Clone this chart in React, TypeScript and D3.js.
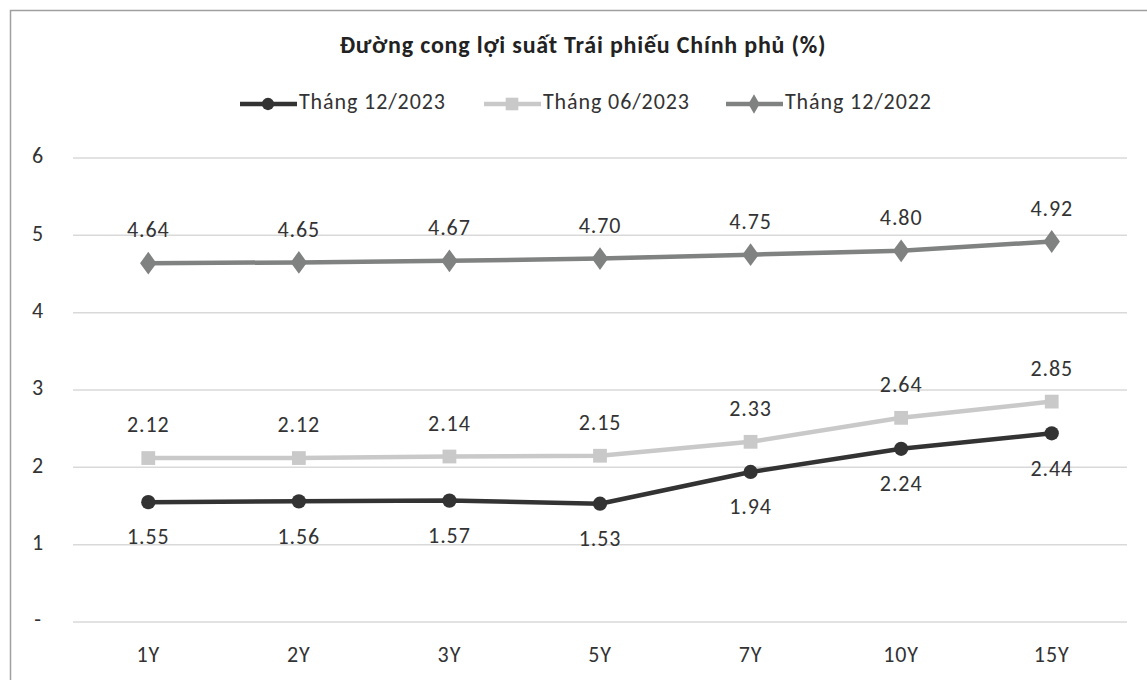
import React, { useEffect, useRef } from "react";
import * as d3 from "d3";

const categories = ["1Y", "2Y", "3Y", "5Y", "7Y", "10Y", "15Y"];
const seriesNames = ["Tháng 12/2023", "Tháng 06/2023", "Tháng 12/2022"];
const dec2023 = [1.55, 1.56, 1.57, 1.53, 1.94, 2.24, 2.44];
const jun2023 = [2.12, 2.12, 2.14, 2.15, 2.33, 2.64, 2.85];
const dec2022 = [4.64, 4.65, 4.67, 4.7, 4.75, 4.8, 4.92];
const yTicks = [0, 1, 2, 3, 4, 5, 6];

const W = 1147;
const H = 680;
const FONT = "Carlito, Calibri, Lato, 'Open Sans', sans-serif";

export default function App() {
  const ref = useRef<SVGSVGElement>(null);

  useEffect(() => {
    const svg = d3.select(ref.current);
    svg.selectAll("*").remove();

    // frame
    svg.append("rect").attr("width", W).attr("height", H).attr("fill", "#fff");
    svg
      .append("path")
      .attr("d", `M10.5,${H} L10.5,10.5 L${W},10.5`)
      .attr("fill", "none")
      .attr("stroke", "#a0a0a0")
      .attr("stroke-width", 1.5);

    const x = d3.scaleBand().domain(categories).range([73, 1127]);
    const y = d3.scaleLinear().domain([0, 6]).range([622, 158]);
    const cx = (c: string) => (x(c) ?? 0) + x.bandwidth() / 2;

    const txt = (sel: d3.Selection<SVGTextElement, unknown, null, undefined>, size = 22) =>
      sel
        .attr("font-family", FONT)
        .attr("font-size", size)
        .attr("letter-spacing", 0.9)
        .attr("fill", "#333")
        .attr("dominant-baseline", "middle");

    // title
    txt(svg.append("text"), 24)
      .attr("x", 583)
      .attr("y", 47)
      .attr("text-anchor", "middle")
      .attr("font-weight", "bold")
      .attr("letter-spacing", 0.8)
      .attr("fill", "#222")
      .text("Đường cong lợi suất Trái phiếu Chính phủ (%)");

    // grid + y labels
    const grid = svg.append("g");
    yTicks.forEach((t) => {
      grid
        .append("line")
        .attr("x1", 73)
        .attr("x2", 1127)
        .attr("y1", y(t))
        .attr("y2", y(t))
        .attr("stroke", "#d9d9d9")
        .attr("stroke-width", 1.5);
      txt(grid.append("text"))
        .attr("x", 38)
        .attr("y", y(t))
        .attr("text-anchor", "middle")
        .text(t === 0 ? "-" : String(t));
    });

    // x labels
    categories.forEach((c) => {
      txt(svg.append("text"))
        .attr("x", cx(c))
        .attr("y", 657)
        .attr("text-anchor", "middle")
        .text(c);
    });

    const series = [
      { name: seriesNames[2], values: dec2022, color: "#7f8280", shape: d3.symbolDiamond, size: 150, above: true },
      { name: seriesNames[1], values: jun2023, color: "#c9c9c9", shape: d3.symbolSquare, size: 190, above: true },
      { name: seriesNames[0], values: dec2023, color: "#333333", shape: d3.symbolCircle, size: 160, above: false },
    ];

    const line = d3
      .line<number>()
      .x((_, i) => cx(categories[i]))
      .y((v) => y(v));

    series.forEach((s) => {
      const g = svg.append("g");
      g.append("path")
        .attr("d", line(s.values))
        .attr("fill", "none")
        .attr("stroke", s.color)
        .attr("stroke-width", 4.5)
        .attr("stroke-linejoin", "round");
      const sym = d3.symbol().type(s.shape).size(s.size);
      s.values.forEach((v, i) => {
        const px = cx(categories[i]);
        const py = y(v);
        g.append("path")
          .attr("d", sym() as string)
          .attr(
            "transform",
            s.shape === d3.symbolDiamond
              ? `translate(${px},${py}) scale(1.25,1)`
              : `translate(${px},${py})`
          )
          .attr("fill", s.color);
        txt(g.append("text"))
          .attr("x", px)
          .attr("y", s.above ? py - 31 : py + 37)
          .attr("text-anchor", "middle")
          .text(v.toFixed(2));
      });
    });

    // legend
    const legendItems = [
      { name: seriesNames[0], color: "#333333", shape: d3.symbolCircle, size: 120, x0: 240 },
      { name: seriesNames[1], color: "#c9c9c9", shape: d3.symbolSquare, size: 160, x0: 484 },
      { name: seriesNames[2], color: "#7f8280", shape: d3.symbolDiamond, size: 110, x0: 726 },
    ];
    legendItems.forEach((it) => {
      const ly = 104;
      const lg = svg.append("g");
      lg.append("line")
        .attr("x1", it.x0)
        .attr("x2", it.x0 + 57)
        .attr("y1", ly)
        .attr("y2", ly)
        .attr("stroke", it.color)
        .attr("stroke-width", 4.5);
      lg.append("path")
        .attr("d", d3.symbol().type(it.shape).size(it.size)() as string)
        .attr("transform", `translate(${it.x0 + 28},${ly})`)
        .attr("fill", it.color);
      txt(lg.append("text"))
        .attr("x", it.x0 + 59)
        .attr("y", ly)
        .text(it.name);
    });
  }, []);

  return (
    <svg
      ref={ref}
      width={W}
      height={H}
      style={{ position: "absolute", left: 0, top: 0, display: "block" }}
    />
  );
}
